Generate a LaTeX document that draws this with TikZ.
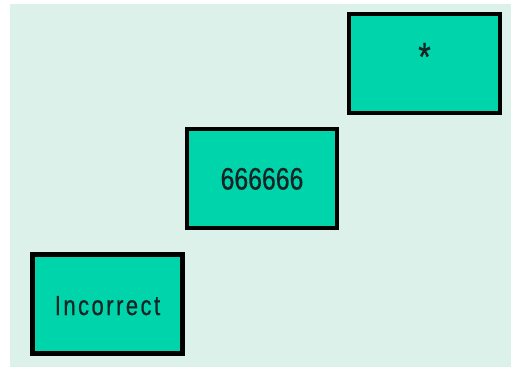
\documentclass[tikz,border=0pt]{standalone}
\usepackage{fontspec}
\usepackage{tikz}
\usetikzlibrary{positioning}
\newfontfamily\narrowfont[FakeStretch=0.8,FakeBold=0.6]{Liberation Sans}
\newfontfamily\spacedfont[FakeStretch=0.8,FakeBold=0.6,LetterSpace=9]{Liberation Sans}
\definecolor{mintbg}{RGB}{220,241,234}
\definecolor{tealbox}{RGB}{0,212,170}
\definecolor{inkdark}{RGB}{20,35,35}

\begin{document}
\begin{tikzpicture}[
  x=1pt, y=1pt,
  cell/.style={rectangle, draw=black, line width=4.6pt, fill=tealbox,
    minimum width=150pt, minimum height=99pt, inner sep=0pt,
    text=inkdark, font=\narrowfont\fontsize{31}{31}\selectfont,
    text height=22pt, text depth=0pt}
]
\useasboundingbox (0,0) rectangle (511,367);

% background panel
\fill[mintbg] (10,0) rectangle (511,363);

% answer boxes (bottom left to top right)
\node[cell, font=\spacedfont\fontsize{27.5}{27.5}\selectfont] (wrong) at (107.5,63) {Incorrect};
\node[cell] (number) at (262,188.5) {666666};
\node[cell, minimum width=151pt, font=\narrowfont\fontsize{40}{40}\selectfont,
  text height=14pt] (star) at (424.5,303.5) {*};

\end{tikzpicture}
\end{document}
